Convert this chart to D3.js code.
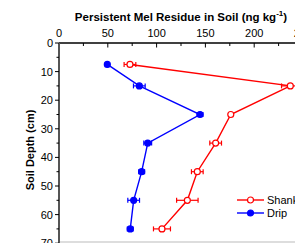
<!DOCTYPE html>
<html>
<head>
<meta charset="utf-8">
<script src="https://cdn.jsdelivr.net/npm/d3@7"></script>
<style>
  body { margin: 0; background: #fff; }
  svg { display: block; font-family: "Liberation Sans", Arial, sans-serif; }
</style>
</head>
<body>
<svg id="chart"></svg>
<script>
const width = 295;
const height = 243;

// depths (cm) and residue values
const depths = [7.5, 15, 25, 35, 45, 55, 65];
const shank = [72.7, 237, 176, 160.5, 141.7, 131.5, 105.5];
const shankErr = [6, 9, 0, 6, 6, 11, 8.7];
const drip = [49.5, 82.3, 144.5, 90.9, 84.7, 76.5, 73];
const dripErr = [0, 6, 3, 4, 3, 6, 3];
const xTicks = [0, 50, 100, 150, 200, 250];
const yTicks = [0, 10, 20, 30, 40, 50, 60, 70];

const series = [
    {name: "Shank", values: shank, err: shankErr, color: "#ff0000", filled: false},
    {name: "Drip", values: drip, err: dripErr, color: "#0000ff", filled: true}
];

const svg = d3.select("#chart")
    .attr("width", width)
    .attr("height", height);

const x = d3.scaleLinear().domain([0, 250]).range([59, 303]);
const y = d3.scaleLinear().domain([0, 70]).range([43, 243.2]);

// light bottom frame
svg.append("line")
    .attr("x1", 59).attr("x2", width)
    .attr("y1", 242).attr("y2", 242)
    .attr("stroke", "#ddd").attr("stroke-width", 2);

// top axis, ticks pointing into the plot
const xAxis = svg.append("g")
    .attr("transform", `translate(0,${y(0)})`);
xAxis.append("line")
    .attr("x1", x(0)).attr("x2", x(250))
    .attr("stroke", "#000").attr("stroke-width", 1.5);
xAxis.selectAll(".minor")
    .data(d3.range(25, 250, 50))
    .enter().append("line")
    .attr("x1", d => x(d)).attr("x2", d => x(d))
    .attr("y1", 0).attr("y2", 3)
    .attr("stroke", "#000").attr("stroke-width", 1);
xAxis.selectAll(".major")
    .data(xTicks)
    .enter().append("line")
    .attr("x1", d => x(d)).attr("x2", d => x(d))
    .attr("y1", 0).attr("y2", 4.5)
    .attr("stroke", "#000").attr("stroke-width", 1);
xAxis.selectAll("text")
    .data(xTicks)
    .enter().append("text")
    .attr("x", d => x(d))
    .attr("y", -6)
    .attr("text-anchor", "middle")
    .attr("font-size", 11)
    .text(d => d);

// left axis, ticks pointing outward
const yAxis = svg.append("g")
    .attr("transform", `translate(${x(0)},0)`);
yAxis.append("line")
    .attr("y1", y(0)).attr("y2", y(70))
    .attr("stroke", "#555").attr("stroke-width", 2);
yAxis.selectAll(".minor")
    .data(d3.range(5, 70, 10))
    .enter().append("line")
    .attr("y1", d => y(d)).attr("y2", d => y(d))
    .attr("x1", -2.5).attr("x2", 0)
    .attr("stroke", "#000").attr("stroke-width", 1);
yAxis.selectAll(".major")
    .data(yTicks)
    .enter().append("line")
    .attr("y1", d => y(d)).attr("y2", d => y(d))
    .attr("x1", -4).attr("x2", 0)
    .attr("stroke", "#000").attr("stroke-width", 1);
yAxis.selectAll("text")
    .data(yTicks)
    .enter().append("text")
    .attr("x", -6)
    .attr("y", d => y(d))
    .attr("dy", "0.36em")
    .attr("text-anchor", "end")
    .attr("font-size", 11)
    .text(d => d);

// titles
const title = svg.append("text")
    .attr("x", 181)
    .attr("y", 21)
    .attr("text-anchor", "middle")
    .attr("font-size", 11.5)
    .attr("font-weight", "bold");
title.append("tspan").text("Persistent Mel Residue in Soil (ng kg");
title.append("tspan").attr("font-size", 8).attr("dy", -5).text("-1");
title.append("tspan").attr("dy", 5).text(")");

svg.append("text")
    .attr("transform", "translate(34,150) rotate(-90)")
    .attr("text-anchor", "middle")
    .attr("font-size", 11)
    .attr("font-weight", "bold")
    .text("Soil Depth (cm)");

// series
const line = d3.line()
    .x(d => x(d.v))
    .y(d => y(d.depth));

series.forEach(s => {
    const pts = depths.map((depth, i) => ({depth, v: s.values[i], e: s.err[i]}));
    const g = svg.append("g");

    g.append("path")
        .datum(pts)
        .attr("d", line)
        .attr("fill", "none")
        .attr("stroke", s.color)
        .attr("stroke-width", 1.4);

    const eb = g.selectAll(".err")
        .data(pts.filter(d => d.e > 0))
        .enter().append("g");
    eb.append("line")
        .attr("x1", d => x(d.v - d.e)).attr("x2", d => x(d.v + d.e))
        .attr("y1", d => y(d.depth)).attr("y2", d => y(d.depth))
        .attr("stroke", s.color).attr("stroke-width", 1.2);
    [-1, 1].forEach(sign => {
        eb.append("line")
            .attr("x1", d => x(d.v + sign * d.e)).attr("x2", d => x(d.v + sign * d.e))
            .attr("y1", d => y(d.depth) - 2.5).attr("y2", d => y(d.depth) + 2.5)
            .attr("stroke", s.color).attr("stroke-width", 1.2);
    });

    g.selectAll("circle")
        .data(pts)
        .enter().append("circle")
        .attr("cx", d => x(d.v))
        .attr("cy", d => y(d.depth))
        .attr("r", 3)
        .attr("fill", s.filled ? s.color : "#fff")
        .attr("stroke", s.color)
        .attr("stroke-width", 1.2);
});

// legend
const legend = svg.append("g")
    .selectAll("g")
    .data(series)
    .enter().append("g")
    .attr("transform", (d, i) => `translate(237,${200 + i * 13})`);
legend.append("line")
    .attr("x1", 0).attr("x2", 27)
    .attr("stroke", d => d.color)
    .attr("stroke-width", 1.4);
legend.append("circle")
    .attr("cx", 13.5)
    .attr("r", 3)
    .attr("fill", d => d.filled ? d.color : "#fff")
    .attr("stroke", d => d.color)
    .attr("stroke-width", 1.2);
legend.append("text")
    .attr("x", 30)
    .attr("dy", "0.36em")
    .attr("font-size", 11)
    .text(d => d.name);
</script>
</body>
</html>
